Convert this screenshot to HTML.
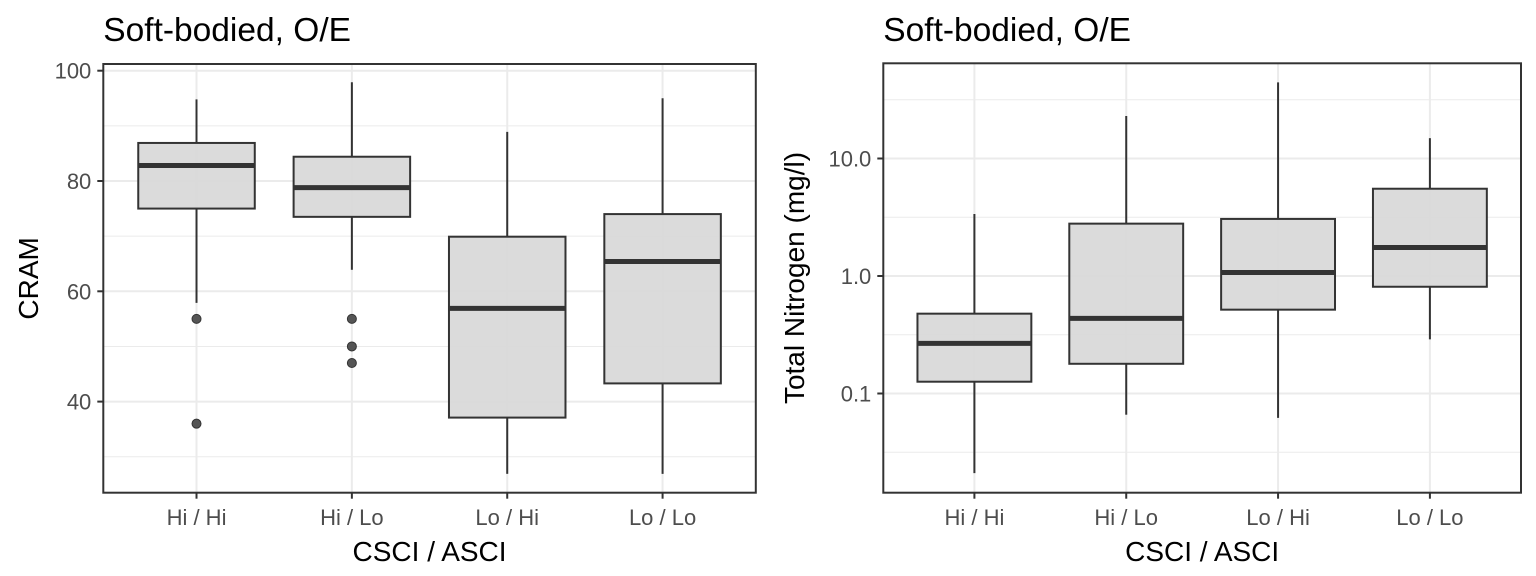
<!DOCTYPE html>
<html><head><meta charset="utf-8"><style>
html,body{margin:0;padding:0;background:#fff;}
svg{display:block;font-family:"Liberation Sans",Arial,sans-serif;}
</style></head><body>
<svg id="chart" width="1536" height="576" viewBox="0 0 1536 576">
</svg>
<script>
const categories = ["Hi / Hi", "Hi / Lo", "Lo / Hi", "Lo / Lo"];
// Left panel: CRAM
const cramLow = [57.9, 63.9, 26.9, 26.9];
const cramQ1 = [75.0, 73.5, 37.1, 43.3];
const cramMed = [82.8, 78.8, 56.9, 65.4];
const cramQ3 = [86.9, 84.4, 69.9, 74.0];
const cramHigh = [94.8, 97.9, 88.9, 95.0];
const cramOutliers = [[55, 36], [55, 50, 47], [], []];
const cramTicks = [40, 60, 80, 100];
const cramMinor = [30, 50, 70, 90];
// Right panel: Total Nitrogen (log)
const tnLow = [0.021, 0.066, 0.062, 0.289];
const tnQ1 = [0.126, 0.179, 0.517, 0.81];
const tnMed = [0.267, 0.436, 1.07, 1.75];
const tnQ3 = [0.478, 2.79, 3.06, 5.53];
const tnHigh = [3.37, 23, 44.5, 14.9];
const tnTicks = [0.1, 1, 10];
const tnTickLabels = ["0.1", "1.0", "10.0"];
const tnMinor = [0.0316, 0.316, 3.16, 31.6];

const svg = document.getElementById('chart');
const NS = 'http://www.w3.org/2000/svg';
function mk(tag, attrs, parent, text) {
  const e = document.createElementNS(NS, tag);
  for (const k in attrs) e.setAttribute(k, attrs[k]);
  if (text !== undefined) e.textContent = text;
  (parent || svg).appendChild(e);
  return e;
}

function panel(opt) {
  const g = mk('g', {});
  
  
  const L = opt.left, R = opt.right, T = opt.top, B = opt.bottom;
  const step = (R - L) / 4.2;
  const xc = i => L + step * (i + 0.6);
  const hw = step * 0.375;
  opt.minor.forEach(v => {
    const y = opt.y(v);
    if (y < T || y > B) return;
    const l = mk('line', {x1: L, x2: R, y1: y, y2: y, stroke: '#ebebeb', 'stroke-width': 1}, g);
    
    
  });
  opt.ticks.forEach((v, i) => {
    const y = opt.y(v);
    const l = mk('line', {x1: L, x2: R, y1: y, y2: y, stroke: '#ebebeb', 'stroke-width': 2}, g);
    
    
    const tk = mk('line', {x1: L - 6, x2: L, y1: y, y2: y, stroke: '#333', 'stroke-width': 2}, g);
    
    
    const t = mk('text', {x: L - 12, y: y + 8, 'text-anchor': 'end', 'font-size': 22, fill: '#4d4d4d'}, g, opt.tickLabels[i]);
    
    
  });
  categories.forEach((c, i) => {
    const x = xc(i);
    const l = mk('line', {x1: x, x2: x, y1: T, y2: B, stroke: '#ebebeb', 'stroke-width': 2}, g);
    
    
  });
  categories.forEach((c, i) => {
    const x = xc(i);
    const bg = mk('g', {}, g);
    
    
    mk('line', {x1: x, x2: x, y1: opt.y(opt.high[i]), y2: opt.y(opt.q3[i]), stroke: '#333', 'stroke-width': 2}, bg);
    mk('line', {x1: x, x2: x, y1: opt.y(opt.q1[i]), y2: opt.y(opt.low[i]), stroke: '#333', 'stroke-width': 2}, bg);
    const yq3 = opt.y(opt.q3[i]), yq1 = opt.y(opt.q1[i]);
    mk('rect', {x: x - hw, y: yq3, width: 2 * hw, height: yq1 - yq3, fill: '#d9d9d9', 'fill-opacity': 0.95, stroke: '#333', 'stroke-width': 2}, bg);
    const ym = opt.y(opt.med[i]);
    mk('line', {x1: x - hw, x2: x + hw, y1: ym, y2: ym, stroke: '#333', 'stroke-width': 5}, bg);
    (opt.outliers ? opt.outliers[i] : []).forEach(v => {
      const p = mk('circle', {cx: x, cy: opt.y(v), r: 4.5, fill: '#555', stroke: '#333', 'stroke-width': 1}, bg);
      
      
    });
    const tk = mk('line', {x1: x, x2: x, y1: B, y2: B + 6, stroke: '#333', 'stroke-width': 2}, g);
    
    
    const t = mk('text', {x: x, y: 525, 'text-anchor': 'middle', 'font-size': 22, fill: '#4d4d4d'}, g, c);
    
    
  });
  const border = mk('rect', {x: L, y: T, width: R - L, height: B - T, fill: 'none', stroke: '#333', 'stroke-width': 2}, g);
  
  
  const title = mk('text', {x: L, y: 41, 'font-size': 33.5, fill: '#000'}, g, 'Soft-bodied, O/E');
  
  
  const xt = mk('text', {x: (L + R) / 2, y: 561, 'text-anchor': 'middle', 'font-size': 28, fill: '#000'}, g, 'CSCI / ASCI');
  
  
  const yt = mk('text', {x: 0, y: 0, 'text-anchor': 'middle', 'font-size': 28, fill: '#000', transform: 'translate(' + opt.ytx + ',' + ((T + B) / 2) + ') rotate(-90)'}, g, opt.ytitle);
  
  
}

panel({
  name: 'cram-panel', left: 103.3, right: 755.8, top: 64, bottom: 492.7,
  y: v => 70.7 + (100 - v) * 5.515,
  ticks: cramTicks, tickLabels: cramTicks.map(String), minor: cramMinor,
  low: cramLow, q1: cramQ1, med: cramMed, q3: cramQ3, high: cramHigh, outliers: cramOutliers,
  ytitle: 'CRAM', ytx: 38
});
panel({
  name: 'nitrogen-panel', left: 883.3, right: 1521, top: 63.3, bottom: 492.7,
  y: v => 276 - Math.log10(v) * 117.5,
  ticks: tnTicks, tickLabels: tnTickLabels, minor: tnMinor,
  low: tnLow, q1: tnQ1, med: tnMed, q3: tnQ3, high: tnHigh, outliers: null,
  ytitle: 'Total Nitrogen (mg/l)', ytx: 804
});
</script>
</body></html>
